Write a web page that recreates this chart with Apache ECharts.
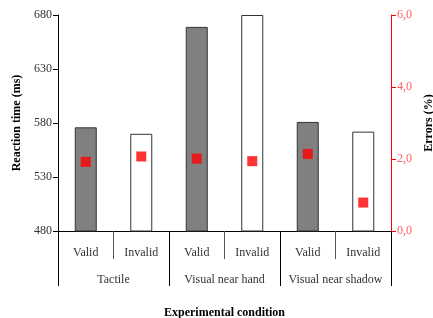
<!DOCTYPE html>
<html>
<head>
<meta charset="utf-8">
<script src="https://cdn.jsdelivr.net/npm/echarts@6/dist/echarts.min.js"></script>
<style>
  html, body { margin: 0; padding: 0; background: #fff; }
  #main { width: 433px; height: 318px; }
</style>
</head>
<body>
<div id="main"></div>
<script>
  // cue conditions, one bar per cue within each group
  var cues = ['Valid', 'Invalid', 'Valid', 'Invalid', 'Valid', 'Invalid'];
  var groups = ['Tactile', 'Visual near hand', 'Visual near shadow'];
  // reaction time (ms), bars
  var reactionTimes = [576, 570, 669, 680, 581, 572];
  // errors (%), red squares
  var errorRates = [1.92, 2.07, 2.01, 1.94, 2.14, 0.79];

  var font = 'Liberation Serif';

  var chart = echarts.init(document.getElementById('main'));

  var barData = reactionTimes.map(function (v, i) {
    var valid = cues[i] === 'Valid';
    return {
      value: v,
      itemStyle: {
        color: valid ? '#808080' : '#ffffff',
        borderColor: '#333333',
        borderWidth: 1
      }
    };
  });

  var option = {
    animation: false,
    textStyle: { fontFamily: font },
    grid: { left: 58, right: 42, top: 15, bottom: 87, containLabel: false, outerBoundsMode: 'none' },
    xAxis: [
      {
        type: 'category',
        data: cues,
        position: 'bottom',
        axisLine: { show: true, lineStyle: { color: '#000', width: 1 } },
        axisTick: { show: true, interval: 0, length: 28, lineStyle: { color: '#555' } },
        axisLabel: { interval: 0, color: '#333', fontSize: 12, margin: 16, fontFamily: font },
        name: 'Experimental condition',
        nameLocation: 'middle',
        nameGap: 76,
        nameTextStyle: { color: '#000', fontSize: 12, fontWeight: 'bold', fontFamily: font }
      },
      {
        type: 'category',
        data: groups,
        position: 'bottom',
        axisLine: { show: true, lineStyle: { color: '#000', width: 1 } },
        axisTick: { show: true, interval: 0, length: 55, lineStyle: { color: '#000' } },
        axisLabel: { interval: 0, color: '#333', fontSize: 12, margin: 43, fontFamily: font }
      }
    ],
    yAxis: [
      {
        type: 'value',
        min: 480,
        max: 680,
        interval: 50,
        splitLine: { show: false },
        axisLine: { show: true, lineStyle: { color: '#000' } },
        axisTick: { show: true, length: 5, lineStyle: { color: '#000' } },
        axisLabel: { color: '#333', fontSize: 12, margin: 6, fontFamily: font },
        name: 'Reaction time (ms)',
        nameLocation: 'middle',
        nameGap: 30,
        nameTextStyle: { color: '#000', fontSize: 12, fontWeight: 'bold', fontFamily: font }
      },
      {
        type: 'value',
        min: 0,
        max: 6,
        interval: 2,
        position: 'right',
        splitLine: { show: false },
        axisLine: { show: true, lineStyle: { color: '#ff0000' } },
        axisTick: { show: true, length: 5, lineStyle: { color: '#ff0000' } },
        axisLabel: {
          color: '#ff5a5a', fontSize: 12, margin: 6, fontFamily: font,
          formatter: function (v) { return v.toFixed(1).replace('.', ','); }
        },
        name: 'Errors (%)',
        nameLocation: 'middle',
        nameGap: 30,
        nameRotate: 90,
        nameTextStyle: { color: '#000', fontSize: 12, fontWeight: 'bold', fontFamily: font }
      }
    ],
    series: [
      {
        name: 'Reaction time',
        type: 'bar',
        xAxisIndex: 0,
        yAxisIndex: 0,
        barWidth: 22,
        data: barData
      },
      {
        name: 'Errors',
        type: 'scatter',
        xAxisIndex: 0,
        yAxisIndex: 1,
        symbol: 'rect',
        symbolSize: 10,
        itemStyle: { color: '#ff0000' },
        data: errorRates,
        z: 5
      }
    ]
  };

  chart.setOption(option);
</script>
</body>
</html>
